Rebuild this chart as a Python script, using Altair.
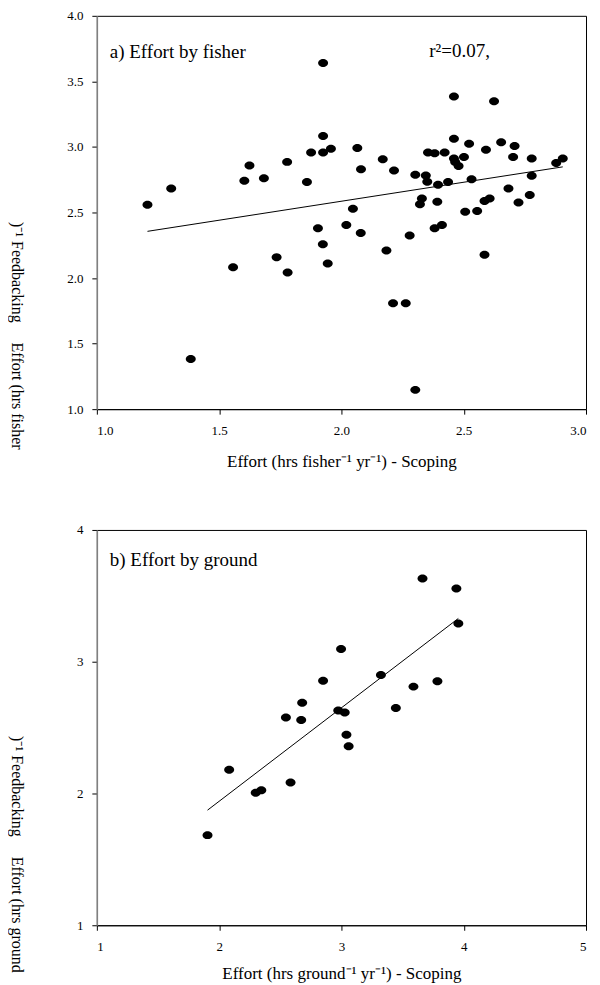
import altair as alt
import pandas as pd

# a) Effort by fisher
fisher_scoping = [1.207, 1.304, 1.384, 1.557, 1.603, 1.624, 1.683, 1.735, 1.780, 1.778,
                  1.859, 1.876, 1.904, 1.924, 1.925, 1.925, 1.925, 1.957, 1.944, 2.020,
                  2.047, 2.065, 2.080, 2.079, 2.169, 2.184, 2.215, 2.211, 2.263, 2.279,
                  2.302, 2.302, 2.321, 2.329, 2.345, 2.351, 2.354, 2.381, 2.392, 2.395,
                  2.381, 2.411, 2.422, 2.436, 2.460, 2.460, 2.460, 2.465, 2.479, 2.501,
                  2.506, 2.522, 2.532, 2.555, 2.585, 2.606, 2.585, 2.591, 2.624, 2.653,
                  2.683, 2.708, 2.702, 2.724, 2.770, 2.778, 2.778, 2.878, 2.905]
fisher_feedback = [2.559, 2.683, 1.382, 2.083, 2.742, 2.858, 2.762, 2.159, 2.043, 2.886,
                   2.732, 2.957, 2.379, 2.258, 3.640, 3.083, 2.957, 2.987, 2.111, 2.405,
                   2.529, 2.992, 2.830, 2.344, 2.906, 2.210, 2.820, 1.807, 1.807, 2.324,
                   2.787, 1.147, 2.562, 2.607, 2.782, 2.734, 2.957, 2.952, 2.582, 2.711,
                   2.379, 2.405, 2.957, 2.732, 3.385, 3.063, 2.911, 2.886, 2.855, 2.924,
                   2.506, 3.025, 2.754, 2.511, 2.587, 2.607, 2.177, 2.979, 3.349, 3.035,
                   2.683, 3.007, 2.924, 2.577, 2.633, 2.911, 2.780, 2.878, 2.911]

# b) Effort by ground
ground_scoping = [3.663, 3.940, 3.956, 2.997, 2.850, 3.323, 3.785, 3.589, 2.679, 3.445,
                  2.974, 3.027, 2.546, 2.671, 3.041, 3.059, 2.082, 2.584, 2.299, 2.345, 1.905]
ground_feedback = [3.631, 3.555, 3.290, 3.096, 2.856, 2.899, 2.851, 2.811, 2.689, 2.649,
                   2.629, 2.614, 2.576, 2.558, 2.445, 2.358, 2.180, 2.083, 2.005, 2.025, 1.684]

FONT = "Liberation Serif"
ELLIPSE = "M-1,0A1,0.8,0,1,1,1,0A1,0.8,0,1,1,-1,0Z"
GAP = "\u00a0" * 5


def panel(xs, ys, xdom, ydom, xticks, yticks, fmt, xtitle, ytitle, label, h,
          label_y, xtitle_y, note=None):
    df = pd.DataFrame({"s": xs, "f": ys})
    xenc = alt.X("s:Q", scale=alt.Scale(domain=xdom, nice=False, zero=False),
                 axis=alt.Axis(values=xticks, format=fmt, title=xtitle,
                               labelPadding=10, titleBaseline="alphabetic",
                               titleY=xtitle_y, titleFontSize=17))
    yenc = alt.Y("f:Q", scale=alt.Scale(domain=ydom, nice=False, zero=False),
                 axis=alt.Axis(values=yticks, format=fmt, title=ytitle,
                               labelPadding=9, titleAngle=90, titleAlign="left",
                               titleBaseline="middle", titleX=-80, titleY=206,
                               titleFontSize=16, domainColor="#808080",
                               domainWidth=1.5))
    base = alt.Chart(df)
    pts = base.mark_point(shape=ELLIPSE, filled=True, color="black", size=100,
                          opacity=1).encode(x=xenc, y=yenc)
    fit = base.transform_regression("s", "f").mark_line(
        color="black", strokeWidth=1).encode(x="s:Q", y="f:Q")
    lab = alt.Chart(pd.DataFrame({"t": [label]})).mark_text(
        align="left", baseline="alphabetic", font=FONT, fontSize=19,
        color="black").encode(text="t:N", x=alt.value(13), y=alt.value(label_y))
    layers = [pts, fit, lab]
    if note:
        layers.append(alt.Chart(pd.DataFrame({"t": [note]})).mark_text(
            align="left", baseline="alphabetic", font=FONT, fontSize=19,
            color="black").encode(text="t:N", x=alt.value(333), y=alt.value(label_y - 1)))
    return alt.layer(*layers).properties(width=490, height=h)


top = panel(fisher_scoping, fisher_feedback, [1.0, 3.0], [1.0, 4.0],
            [1.0, 1.5, 2.0, 2.5, 3.0], [1.0, 1.5, 2.0, 2.5, 3.0, 3.5, 4.0], ".1f",
            "Effort (hrs fisher\u207b\u00b9 yr\u207b\u00b9) - Scoping",
            ")\u207b\u00b9 Feedbacking" + GAP + "Effort (hrs fisher",
            "a) Effort by fisher", 394, 42, 57, note="r\u00b2=0.07,")

bottom = panel(ground_scoping, ground_feedback, [1, 5], [1, 4],
               [1, 2, 3, 4, 5], [1, 2, 3, 4], "d",
               "Effort (hrs ground\u207b\u00b9 yr\u207b\u00b9) - Scoping",
               ")\u207b\u00b9 Feedbacking" + GAP + "Effort (hrs ground",
               "b) Effort by ground", 396, 36, 53)

chart = alt.vconcat(top, bottom, spacing=53).properties(
    padding={"left": 0, "top": 0, "right": 5, "bottom": 0}
).configure_view(stroke="black", strokeWidth=1).configure_axis(
    labelFont=FONT, titleFont=FONT, labelFontSize=13, labelColor="black",
    titleColor="black", titleFontWeight="normal", tickColor="black",
    domainColor="black", tickSize=5, grid=False
)

chart.save("out.html", embed_options={"renderer": "svg", "actions": False})
